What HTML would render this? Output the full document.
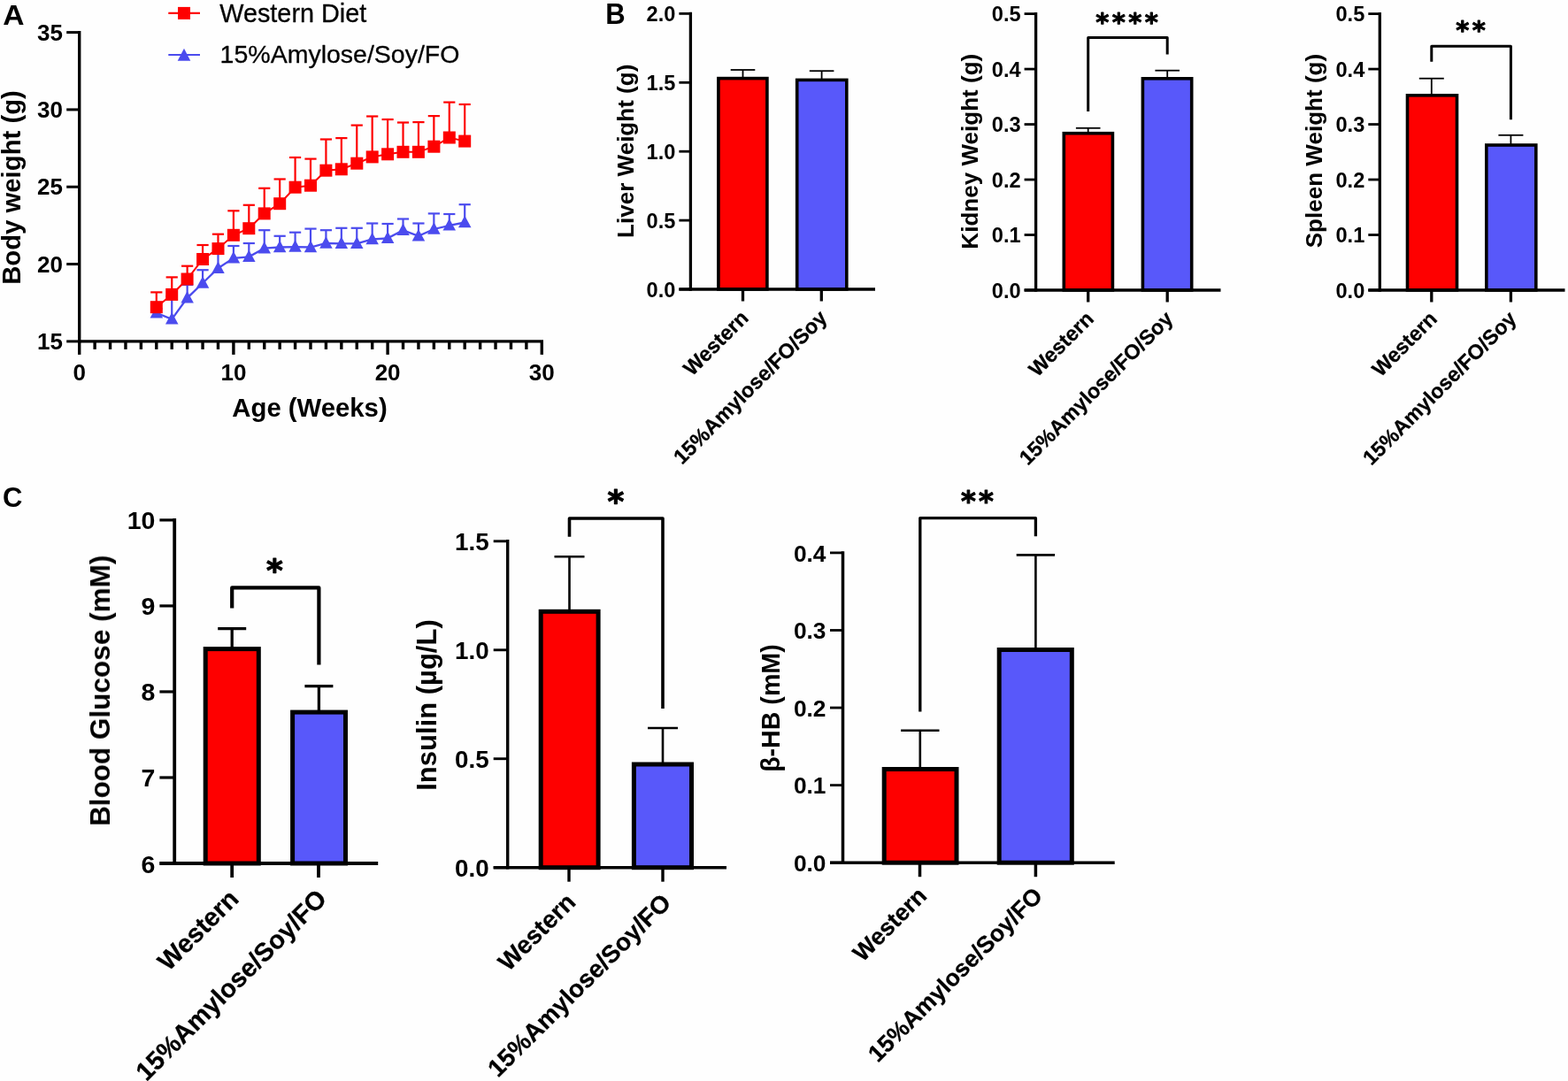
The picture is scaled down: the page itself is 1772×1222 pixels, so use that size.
<!DOCTYPE html>
<html lang="en">
<head>
<meta charset="utf-8">
<title>Figure</title>
<style>
html,body{margin:0;padding:0;background:#fff;}
body{width:1772px;height:1222px;overflow:hidden;}
svg{display:block;}
svg text{font-family:"Liberation Sans", sans-serif;}
</style>
</head>
<body>
<svg width="1772" height="1222" viewBox="0 0 1772 1222">
<defs><filter id="soft" filterUnits="userSpaceOnUse" x="0" y="0" width="1772" height="1222"><feGaussianBlur stdDeviation="0.5"/></filter></defs>
<rect x="0" y="0" width="1772" height="1222" fill="#fefefe"/>
<g filter="url(#soft)">
<text x="0" y="0" transform="translate(3.20 28.20) scale(1.05 1)" font-size="32" font-weight="bold" text-anchor="start" fill="#000">A</text>
<text x="0" y="0" transform="translate(684.20 27.30) scale(0.96 1)" font-size="32.3" font-weight="bold" text-anchor="start" fill="#000">B</text>
<text x="3.00" y="573.00" font-size="31" font-weight="bold" text-anchor="start" fill="#000">C</text>
<polyline fill="none" stroke="#4c4cee" stroke-width="2.3" points="176.8,353.8 194.2,360.9 211.6,336.8 229.1,320.0 246.5,303.2 263.9,291.8 281.3,290.3 298.7,280.7 316.2,279.5 333.6,279.1 351.0,279.5 368.4,275.0 385.8,275.4 403.3,275.4 420.7,270.5 438.1,269.3 455.5,260.3 472.9,266.8 490.4,259.0 507.8,254.9 525.2,251.5"/>
<line x1="176.80" y1="352.75" x2="176.80" y2="349.00" stroke="#4c4cee" stroke-width="2.2" stroke-linecap="butt"/>
<line x1="170.20" y1="349.00" x2="183.40" y2="349.00" stroke="#4c4cee" stroke-width="2.2" stroke-linecap="butt"/>
<polygon points="176.8,346.0 184.1,359.5 169.6,359.5" fill="#4c4cee"/>
<line x1="194.22" y1="359.85" x2="194.22" y2="335.00" stroke="#4c4cee" stroke-width="2.2" stroke-linecap="butt"/>
<line x1="187.62" y1="335.00" x2="200.82" y2="335.00" stroke="#4c4cee" stroke-width="2.2" stroke-linecap="butt"/>
<polygon points="194.2,353.1 201.5,366.6 187.0,366.6" fill="#4c4cee"/>
<line x1="211.64" y1="335.75" x2="211.64" y2="322.00" stroke="#4c4cee" stroke-width="2.2" stroke-linecap="butt"/>
<line x1="205.04" y1="322.00" x2="218.24" y2="322.00" stroke="#4c4cee" stroke-width="2.2" stroke-linecap="butt"/>
<polygon points="211.6,329.0 218.9,342.5 204.4,342.5" fill="#4c4cee"/>
<line x1="229.06" y1="318.95" x2="229.06" y2="305.20" stroke="#4c4cee" stroke-width="2.2" stroke-linecap="butt"/>
<line x1="222.46" y1="305.20" x2="235.66" y2="305.20" stroke="#4c4cee" stroke-width="2.2" stroke-linecap="butt"/>
<polygon points="229.1,312.2 236.3,325.7 221.8,325.7" fill="#4c4cee"/>
<line x1="246.48" y1="302.15" x2="246.48" y2="283.00" stroke="#4c4cee" stroke-width="2.2" stroke-linecap="butt"/>
<line x1="239.88" y1="283.00" x2="253.08" y2="283.00" stroke="#4c4cee" stroke-width="2.2" stroke-linecap="butt"/>
<polygon points="246.5,295.4 253.7,308.9 239.2,308.9" fill="#4c4cee"/>
<line x1="263.90" y1="290.75" x2="263.90" y2="278.00" stroke="#4c4cee" stroke-width="2.2" stroke-linecap="butt"/>
<line x1="257.30" y1="278.00" x2="270.50" y2="278.00" stroke="#4c4cee" stroke-width="2.2" stroke-linecap="butt"/>
<polygon points="263.9,284.0 271.2,297.5 256.7,297.5" fill="#4c4cee"/>
<line x1="281.32" y1="289.25" x2="281.32" y2="275.00" stroke="#4c4cee" stroke-width="2.2" stroke-linecap="butt"/>
<line x1="274.72" y1="275.00" x2="287.92" y2="275.00" stroke="#4c4cee" stroke-width="2.2" stroke-linecap="butt"/>
<polygon points="281.3,282.5 288.6,296.0 274.1,296.0" fill="#4c4cee"/>
<line x1="298.74" y1="279.65" x2="298.74" y2="260.20" stroke="#4c4cee" stroke-width="2.2" stroke-linecap="butt"/>
<line x1="292.14" y1="260.20" x2="305.34" y2="260.20" stroke="#4c4cee" stroke-width="2.2" stroke-linecap="butt"/>
<polygon points="298.7,272.9 306.0,286.4 291.5,286.4" fill="#4c4cee"/>
<line x1="316.16" y1="278.45" x2="316.16" y2="266.80" stroke="#4c4cee" stroke-width="2.2" stroke-linecap="butt"/>
<line x1="309.56" y1="266.80" x2="322.76" y2="266.80" stroke="#4c4cee" stroke-width="2.2" stroke-linecap="butt"/>
<polygon points="316.2,271.7 323.4,285.2 308.9,285.2" fill="#4c4cee"/>
<line x1="333.58" y1="278.05" x2="333.58" y2="262.70" stroke="#4c4cee" stroke-width="2.2" stroke-linecap="butt"/>
<line x1="326.98" y1="262.70" x2="340.18" y2="262.70" stroke="#4c4cee" stroke-width="2.2" stroke-linecap="butt"/>
<polygon points="333.6,271.3 340.8,284.8 326.3,284.8" fill="#4c4cee"/>
<line x1="351.00" y1="278.45" x2="351.00" y2="258.60" stroke="#4c4cee" stroke-width="2.2" stroke-linecap="butt"/>
<line x1="344.40" y1="258.60" x2="357.60" y2="258.60" stroke="#4c4cee" stroke-width="2.2" stroke-linecap="butt"/>
<polygon points="351.0,271.7 358.2,285.2 343.8,285.2" fill="#4c4cee"/>
<line x1="368.42" y1="273.95" x2="368.42" y2="260.20" stroke="#4c4cee" stroke-width="2.2" stroke-linecap="butt"/>
<line x1="361.82" y1="260.20" x2="375.02" y2="260.20" stroke="#4c4cee" stroke-width="2.2" stroke-linecap="butt"/>
<polygon points="368.4,267.2 375.7,280.7 361.2,280.7" fill="#4c4cee"/>
<line x1="385.84" y1="274.35" x2="385.84" y2="257.80" stroke="#4c4cee" stroke-width="2.2" stroke-linecap="butt"/>
<line x1="379.24" y1="257.80" x2="392.44" y2="257.80" stroke="#4c4cee" stroke-width="2.2" stroke-linecap="butt"/>
<polygon points="385.8,267.6 393.1,281.1 378.6,281.1" fill="#4c4cee"/>
<line x1="403.26" y1="274.35" x2="403.26" y2="257.80" stroke="#4c4cee" stroke-width="2.2" stroke-linecap="butt"/>
<line x1="396.66" y1="257.80" x2="409.86" y2="257.80" stroke="#4c4cee" stroke-width="2.2" stroke-linecap="butt"/>
<polygon points="403.3,267.6 410.5,281.1 396.0,281.1" fill="#4c4cee"/>
<line x1="420.68" y1="269.45" x2="420.68" y2="252.50" stroke="#4c4cee" stroke-width="2.2" stroke-linecap="butt"/>
<line x1="414.08" y1="252.50" x2="427.28" y2="252.50" stroke="#4c4cee" stroke-width="2.2" stroke-linecap="butt"/>
<polygon points="420.7,262.7 427.9,276.2 413.4,276.2" fill="#4c4cee"/>
<line x1="438.10" y1="268.25" x2="438.10" y2="253.00" stroke="#4c4cee" stroke-width="2.2" stroke-linecap="butt"/>
<line x1="431.50" y1="253.00" x2="444.70" y2="253.00" stroke="#4c4cee" stroke-width="2.2" stroke-linecap="butt"/>
<polygon points="438.1,261.5 445.4,275.0 430.9,275.0" fill="#4c4cee"/>
<line x1="455.52" y1="259.25" x2="455.52" y2="247.50" stroke="#4c4cee" stroke-width="2.2" stroke-linecap="butt"/>
<line x1="448.92" y1="247.50" x2="462.12" y2="247.50" stroke="#4c4cee" stroke-width="2.2" stroke-linecap="butt"/>
<polygon points="455.5,252.5 462.8,266.0 448.3,266.0" fill="#4c4cee"/>
<line x1="472.94" y1="265.75" x2="472.94" y2="252.50" stroke="#4c4cee" stroke-width="2.2" stroke-linecap="butt"/>
<line x1="466.34" y1="252.50" x2="479.54" y2="252.50" stroke="#4c4cee" stroke-width="2.2" stroke-linecap="butt"/>
<polygon points="472.9,259.0 480.2,272.5 465.7,272.5" fill="#4c4cee"/>
<line x1="490.36" y1="257.95" x2="490.36" y2="241.40" stroke="#4c4cee" stroke-width="2.2" stroke-linecap="butt"/>
<line x1="483.76" y1="241.40" x2="496.96" y2="241.40" stroke="#4c4cee" stroke-width="2.2" stroke-linecap="butt"/>
<polygon points="490.4,251.2 497.6,264.7 483.1,264.7" fill="#4c4cee"/>
<line x1="507.78" y1="253.85" x2="507.78" y2="242.00" stroke="#4c4cee" stroke-width="2.2" stroke-linecap="butt"/>
<line x1="501.18" y1="242.00" x2="514.38" y2="242.00" stroke="#4c4cee" stroke-width="2.2" stroke-linecap="butt"/>
<polygon points="507.8,247.1 515.0,260.6 500.5,260.6" fill="#4c4cee"/>
<line x1="525.20" y1="250.45" x2="525.20" y2="231.20" stroke="#4c4cee" stroke-width="2.2" stroke-linecap="butt"/>
<line x1="518.60" y1="231.20" x2="531.80" y2="231.20" stroke="#4c4cee" stroke-width="2.2" stroke-linecap="butt"/>
<polygon points="525.2,243.7 532.5,257.2 518.0,257.2" fill="#4c4cee"/>
<polyline fill="none" stroke="#fe0000" stroke-width="2.0" points="176.8,347.2 194.2,332.9 211.6,315.5 229.1,293.0 246.5,281.1 263.9,265.8 281.3,258.2 298.7,241.4 316.2,230.2 333.6,211.7 351.0,209.7 368.4,192.7 385.8,191.3 403.3,184.7 420.7,177.4 438.1,174.3 455.5,171.8 472.9,171.8 490.4,165.7 507.8,155.5 525.2,159.6"/>
<line x1="176.80" y1="347.20" x2="176.80" y2="330.40" stroke="#fe0000" stroke-width="2.2" stroke-linecap="butt"/>
<line x1="170.20" y1="330.40" x2="183.40" y2="330.40" stroke="#fe0000" stroke-width="2.2" stroke-linecap="butt"/>
<rect x="169.8" y="340.2" width="14.0" height="14.0" fill="#fe0000"/>
<line x1="194.22" y1="332.90" x2="194.22" y2="313.40" stroke="#fe0000" stroke-width="2.2" stroke-linecap="butt"/>
<line x1="187.62" y1="313.40" x2="200.82" y2="313.40" stroke="#fe0000" stroke-width="2.2" stroke-linecap="butt"/>
<rect x="187.2" y="325.9" width="14.0" height="14.0" fill="#fe0000"/>
<line x1="211.64" y1="315.50" x2="211.64" y2="300.70" stroke="#fe0000" stroke-width="2.2" stroke-linecap="butt"/>
<line x1="205.04" y1="300.70" x2="218.24" y2="300.70" stroke="#fe0000" stroke-width="2.2" stroke-linecap="butt"/>
<rect x="204.6" y="308.5" width="14.0" height="14.0" fill="#fe0000"/>
<line x1="229.06" y1="293.00" x2="229.06" y2="277.00" stroke="#fe0000" stroke-width="2.2" stroke-linecap="butt"/>
<line x1="222.46" y1="277.00" x2="235.66" y2="277.00" stroke="#fe0000" stroke-width="2.2" stroke-linecap="butt"/>
<rect x="222.1" y="286.0" width="14.0" height="14.0" fill="#fe0000"/>
<line x1="246.48" y1="281.10" x2="246.48" y2="264.70" stroke="#fe0000" stroke-width="2.2" stroke-linecap="butt"/>
<line x1="239.88" y1="264.70" x2="253.08" y2="264.70" stroke="#fe0000" stroke-width="2.2" stroke-linecap="butt"/>
<rect x="239.5" y="274.1" width="14.0" height="14.0" fill="#fe0000"/>
<line x1="263.90" y1="265.80" x2="263.90" y2="238.30" stroke="#fe0000" stroke-width="2.2" stroke-linecap="butt"/>
<line x1="257.30" y1="238.30" x2="270.50" y2="238.30" stroke="#fe0000" stroke-width="2.2" stroke-linecap="butt"/>
<rect x="256.9" y="258.8" width="14.0" height="14.0" fill="#fe0000"/>
<line x1="281.32" y1="258.20" x2="281.32" y2="231.80" stroke="#fe0000" stroke-width="2.2" stroke-linecap="butt"/>
<line x1="274.72" y1="231.80" x2="287.92" y2="231.80" stroke="#fe0000" stroke-width="2.2" stroke-linecap="butt"/>
<rect x="274.3" y="251.2" width="14.0" height="14.0" fill="#fe0000"/>
<line x1="298.74" y1="241.40" x2="298.74" y2="212.80" stroke="#fe0000" stroke-width="2.2" stroke-linecap="butt"/>
<line x1="292.14" y1="212.80" x2="305.34" y2="212.80" stroke="#fe0000" stroke-width="2.2" stroke-linecap="butt"/>
<rect x="291.7" y="234.4" width="14.0" height="14.0" fill="#fe0000"/>
<line x1="316.16" y1="230.20" x2="316.16" y2="202.50" stroke="#fe0000" stroke-width="2.2" stroke-linecap="butt"/>
<line x1="309.56" y1="202.50" x2="322.76" y2="202.50" stroke="#fe0000" stroke-width="2.2" stroke-linecap="butt"/>
<rect x="309.2" y="223.2" width="14.0" height="14.0" fill="#fe0000"/>
<line x1="333.58" y1="211.70" x2="333.58" y2="178.00" stroke="#fe0000" stroke-width="2.2" stroke-linecap="butt"/>
<line x1="326.98" y1="178.00" x2="340.18" y2="178.00" stroke="#fe0000" stroke-width="2.2" stroke-linecap="butt"/>
<rect x="326.6" y="204.7" width="14.0" height="14.0" fill="#fe0000"/>
<line x1="351.00" y1="209.70" x2="351.00" y2="179.60" stroke="#fe0000" stroke-width="2.2" stroke-linecap="butt"/>
<line x1="344.40" y1="179.60" x2="357.60" y2="179.60" stroke="#fe0000" stroke-width="2.2" stroke-linecap="butt"/>
<rect x="344.0" y="202.7" width="14.0" height="14.0" fill="#fe0000"/>
<line x1="368.42" y1="192.70" x2="368.42" y2="157.50" stroke="#fe0000" stroke-width="2.2" stroke-linecap="butt"/>
<line x1="361.82" y1="157.50" x2="375.02" y2="157.50" stroke="#fe0000" stroke-width="2.2" stroke-linecap="butt"/>
<rect x="361.4" y="185.7" width="14.0" height="14.0" fill="#fe0000"/>
<line x1="385.84" y1="191.30" x2="385.84" y2="156.10" stroke="#fe0000" stroke-width="2.2" stroke-linecap="butt"/>
<line x1="379.24" y1="156.10" x2="392.44" y2="156.10" stroke="#fe0000" stroke-width="2.2" stroke-linecap="butt"/>
<rect x="378.8" y="184.3" width="14.0" height="14.0" fill="#fe0000"/>
<line x1="403.26" y1="184.70" x2="403.26" y2="141.60" stroke="#fe0000" stroke-width="2.2" stroke-linecap="butt"/>
<line x1="396.66" y1="141.60" x2="409.86" y2="141.60" stroke="#fe0000" stroke-width="2.2" stroke-linecap="butt"/>
<rect x="396.3" y="177.7" width="14.0" height="14.0" fill="#fe0000"/>
<line x1="420.68" y1="177.40" x2="420.68" y2="131.50" stroke="#fe0000" stroke-width="2.2" stroke-linecap="butt"/>
<line x1="414.08" y1="131.50" x2="427.28" y2="131.50" stroke="#fe0000" stroke-width="2.2" stroke-linecap="butt"/>
<rect x="413.7" y="170.4" width="14.0" height="14.0" fill="#fe0000"/>
<line x1="438.10" y1="174.30" x2="438.10" y2="135.00" stroke="#fe0000" stroke-width="2.2" stroke-linecap="butt"/>
<line x1="431.50" y1="135.00" x2="444.70" y2="135.00" stroke="#fe0000" stroke-width="2.2" stroke-linecap="butt"/>
<rect x="431.1" y="167.3" width="14.0" height="14.0" fill="#fe0000"/>
<line x1="455.52" y1="171.80" x2="455.52" y2="138.50" stroke="#fe0000" stroke-width="2.2" stroke-linecap="butt"/>
<line x1="448.92" y1="138.50" x2="462.12" y2="138.50" stroke="#fe0000" stroke-width="2.2" stroke-linecap="butt"/>
<rect x="448.5" y="164.8" width="14.0" height="14.0" fill="#fe0000"/>
<line x1="472.94" y1="171.80" x2="472.94" y2="138.10" stroke="#fe0000" stroke-width="2.2" stroke-linecap="butt"/>
<line x1="466.34" y1="138.10" x2="479.54" y2="138.10" stroke="#fe0000" stroke-width="2.2" stroke-linecap="butt"/>
<rect x="465.9" y="164.8" width="14.0" height="14.0" fill="#fe0000"/>
<line x1="490.36" y1="165.70" x2="490.36" y2="131.10" stroke="#fe0000" stroke-width="2.2" stroke-linecap="butt"/>
<line x1="483.76" y1="131.10" x2="496.96" y2="131.10" stroke="#fe0000" stroke-width="2.2" stroke-linecap="butt"/>
<rect x="483.4" y="158.7" width="14.0" height="14.0" fill="#fe0000"/>
<line x1="507.78" y1="155.50" x2="507.78" y2="115.60" stroke="#fe0000" stroke-width="2.2" stroke-linecap="butt"/>
<line x1="501.18" y1="115.60" x2="514.38" y2="115.60" stroke="#fe0000" stroke-width="2.2" stroke-linecap="butt"/>
<rect x="500.8" y="148.5" width="14.0" height="14.0" fill="#fe0000"/>
<line x1="525.20" y1="159.60" x2="525.20" y2="118.00" stroke="#fe0000" stroke-width="2.2" stroke-linecap="butt"/>
<line x1="518.60" y1="118.00" x2="531.80" y2="118.00" stroke="#fe0000" stroke-width="2.2" stroke-linecap="butt"/>
<rect x="518.2" y="152.6" width="14.0" height="14.0" fill="#fe0000"/>
<line x1="89.70" y1="34.90" x2="89.70" y2="387.60" stroke="#000" stroke-width="3.4" stroke-linecap="butt"/>
<line x1="88.00" y1="385.90" x2="614.00" y2="385.90" stroke="#000" stroke-width="3.4" stroke-linecap="butt"/>
<line x1="75.20" y1="385.90" x2="89.70" y2="385.90" stroke="#000" stroke-width="3.0" stroke-linecap="butt"/>
<text x="70.90" y="395.10" font-size="26" font-weight="bold" text-anchor="end" fill="#000">15</text>
<line x1="75.20" y1="298.57" x2="89.70" y2="298.57" stroke="#000" stroke-width="3.0" stroke-linecap="butt"/>
<text x="70.90" y="307.77" font-size="26" font-weight="bold" text-anchor="end" fill="#000">20</text>
<line x1="75.20" y1="211.25" x2="89.70" y2="211.25" stroke="#000" stroke-width="3.0" stroke-linecap="butt"/>
<text x="70.90" y="220.45" font-size="26" font-weight="bold" text-anchor="end" fill="#000">25</text>
<line x1="75.20" y1="123.92" x2="89.70" y2="123.92" stroke="#000" stroke-width="3.0" stroke-linecap="butt"/>
<text x="70.90" y="133.12" font-size="26" font-weight="bold" text-anchor="end" fill="#000">30</text>
<line x1="75.20" y1="36.60" x2="89.70" y2="36.60" stroke="#000" stroke-width="3.0" stroke-linecap="butt"/>
<text x="70.90" y="45.80" font-size="26" font-weight="bold" text-anchor="end" fill="#000">35</text>
<line x1="89.70" y1="385.90" x2="89.70" y2="400.90" stroke="#000" stroke-width="3.4" stroke-linecap="butt"/>
<line x1="107.12" y1="385.90" x2="107.12" y2="394.90" stroke="#000" stroke-width="3.4" stroke-linecap="butt"/>
<line x1="124.54" y1="385.90" x2="124.54" y2="394.90" stroke="#000" stroke-width="3.4" stroke-linecap="butt"/>
<line x1="141.96" y1="385.90" x2="141.96" y2="394.90" stroke="#000" stroke-width="3.4" stroke-linecap="butt"/>
<line x1="159.38" y1="385.90" x2="159.38" y2="394.90" stroke="#000" stroke-width="3.4" stroke-linecap="butt"/>
<line x1="176.80" y1="385.90" x2="176.80" y2="394.90" stroke="#000" stroke-width="3.4" stroke-linecap="butt"/>
<line x1="194.22" y1="385.90" x2="194.22" y2="394.90" stroke="#000" stroke-width="3.4" stroke-linecap="butt"/>
<line x1="211.64" y1="385.90" x2="211.64" y2="394.90" stroke="#000" stroke-width="3.4" stroke-linecap="butt"/>
<line x1="229.06" y1="385.90" x2="229.06" y2="394.90" stroke="#000" stroke-width="3.4" stroke-linecap="butt"/>
<line x1="246.48" y1="385.90" x2="246.48" y2="394.90" stroke="#000" stroke-width="3.4" stroke-linecap="butt"/>
<line x1="263.90" y1="385.90" x2="263.90" y2="400.90" stroke="#000" stroke-width="3.4" stroke-linecap="butt"/>
<line x1="281.32" y1="385.90" x2="281.32" y2="394.90" stroke="#000" stroke-width="3.4" stroke-linecap="butt"/>
<line x1="298.74" y1="385.90" x2="298.74" y2="394.90" stroke="#000" stroke-width="3.4" stroke-linecap="butt"/>
<line x1="316.16" y1="385.90" x2="316.16" y2="394.90" stroke="#000" stroke-width="3.4" stroke-linecap="butt"/>
<line x1="333.58" y1="385.90" x2="333.58" y2="394.90" stroke="#000" stroke-width="3.4" stroke-linecap="butt"/>
<line x1="351.00" y1="385.90" x2="351.00" y2="394.90" stroke="#000" stroke-width="3.4" stroke-linecap="butt"/>
<line x1="368.42" y1="385.90" x2="368.42" y2="394.90" stroke="#000" stroke-width="3.4" stroke-linecap="butt"/>
<line x1="385.84" y1="385.90" x2="385.84" y2="394.90" stroke="#000" stroke-width="3.4" stroke-linecap="butt"/>
<line x1="403.26" y1="385.90" x2="403.26" y2="394.90" stroke="#000" stroke-width="3.4" stroke-linecap="butt"/>
<line x1="420.68" y1="385.90" x2="420.68" y2="394.90" stroke="#000" stroke-width="3.4" stroke-linecap="butt"/>
<line x1="438.10" y1="385.90" x2="438.10" y2="400.90" stroke="#000" stroke-width="3.4" stroke-linecap="butt"/>
<line x1="455.52" y1="385.90" x2="455.52" y2="394.90" stroke="#000" stroke-width="3.4" stroke-linecap="butt"/>
<line x1="472.94" y1="385.90" x2="472.94" y2="394.90" stroke="#000" stroke-width="3.4" stroke-linecap="butt"/>
<line x1="490.36" y1="385.90" x2="490.36" y2="394.90" stroke="#000" stroke-width="3.4" stroke-linecap="butt"/>
<line x1="507.78" y1="385.90" x2="507.78" y2="394.90" stroke="#000" stroke-width="3.4" stroke-linecap="butt"/>
<line x1="525.20" y1="385.90" x2="525.20" y2="394.90" stroke="#000" stroke-width="3.4" stroke-linecap="butt"/>
<line x1="542.62" y1="385.90" x2="542.62" y2="394.90" stroke="#000" stroke-width="3.4" stroke-linecap="butt"/>
<line x1="560.04" y1="385.90" x2="560.04" y2="394.90" stroke="#000" stroke-width="3.4" stroke-linecap="butt"/>
<line x1="577.46" y1="385.90" x2="577.46" y2="394.90" stroke="#000" stroke-width="3.4" stroke-linecap="butt"/>
<line x1="594.88" y1="385.90" x2="594.88" y2="394.90" stroke="#000" stroke-width="3.4" stroke-linecap="butt"/>
<line x1="612.30" y1="385.90" x2="612.30" y2="400.90" stroke="#000" stroke-width="3.4" stroke-linecap="butt"/>
<text x="89.70" y="430.40" font-size="26" font-weight="bold" text-anchor="middle" fill="#000">0</text>
<text x="263.90" y="430.40" font-size="26" font-weight="bold" text-anchor="middle" fill="#000">10</text>
<text x="438.10" y="430.40" font-size="26" font-weight="bold" text-anchor="middle" fill="#000">20</text>
<text x="612.30" y="430.40" font-size="26" font-weight="bold" text-anchor="middle" fill="#000">30</text>
<text x="350.00" y="471.20" font-size="29.3" font-weight="bold" text-anchor="middle" fill="#000">Age (Weeks)</text>
<text x="0" y="0" transform="translate(23.10 212.00) rotate(-90)" font-size="29.3" font-weight="bold" text-anchor="middle" fill="#000">Body weight (g)</text>
<line x1="190.30" y1="14.90" x2="226.00" y2="14.90" stroke="#fe0000" stroke-width="2.2" stroke-linecap="butt"/>
<rect x="201.0" y="7.9" width="14" height="14" fill="#fe0000"/>
<line x1="190.30" y1="62.00" x2="226.00" y2="62.00" stroke="#4c4cee" stroke-width="2.2" stroke-linecap="butt"/>
<polygon points="208,54.8 215.3,68.8 200.7,68.8" fill="#4c4cee"/>
<text x="248.30" y="24.60" font-size="28.8" font-weight="normal" text-anchor="start" fill="#000" stroke="#000" stroke-width="0.3" stroke-linejoin="round">Western Diet</text>
<text x="248.60" y="71.40" font-size="28.5" font-weight="normal" text-anchor="start" fill="#000" stroke="#000" stroke-width="0.3" stroke-linejoin="round">15%Amylose/Soy/FO</text>
<line x1="839.50" y1="88.80" x2="839.50" y2="79.00" stroke="#000" stroke-width="1.8" stroke-linecap="butt"/>
<line x1="825.70" y1="79.00" x2="853.30" y2="79.00" stroke="#000" stroke-width="1.8" stroke-linecap="butt"/>
<rect x="811.90" y="88.60" width="55.00" height="238.40" fill="#fe0000" stroke="#000" stroke-width="3.6"/>
<line x1="928.60" y1="90.60" x2="928.60" y2="80.20" stroke="#000" stroke-width="1.8" stroke-linecap="butt"/>
<line x1="914.80" y1="80.20" x2="942.40" y2="80.20" stroke="#000" stroke-width="1.8" stroke-linecap="butt"/>
<rect x="900.70" y="90.40" width="56.10" height="236.60" fill="#5858fa" stroke="#000" stroke-width="3.6"/>
<line x1="780.40" y1="13.75" x2="780.40" y2="328.65" stroke="#000" stroke-width="3.3" stroke-linecap="butt"/>
<line x1="767.40" y1="327.00" x2="989.00" y2="327.00" stroke="#000" stroke-width="3.3" stroke-linecap="butt"/>
<line x1="767.40" y1="327.00" x2="780.40" y2="327.00" stroke="#000" stroke-width="2.8" stroke-linecap="butt"/>
<text x="763.40" y="335.55" font-size="23.6" font-weight="bold" text-anchor="end" fill="#000">0.0</text>
<line x1="767.40" y1="249.10" x2="780.40" y2="249.10" stroke="#000" stroke-width="2.8" stroke-linecap="butt"/>
<text x="763.40" y="257.65" font-size="23.6" font-weight="bold" text-anchor="end" fill="#000">0.5</text>
<line x1="767.40" y1="171.20" x2="780.40" y2="171.20" stroke="#000" stroke-width="2.8" stroke-linecap="butt"/>
<text x="763.40" y="179.75" font-size="23.6" font-weight="bold" text-anchor="end" fill="#000">1.0</text>
<line x1="767.40" y1="93.30" x2="780.40" y2="93.30" stroke="#000" stroke-width="2.8" stroke-linecap="butt"/>
<text x="763.40" y="101.85" font-size="23.6" font-weight="bold" text-anchor="end" fill="#000">1.5</text>
<line x1="767.40" y1="15.40" x2="780.40" y2="15.40" stroke="#000" stroke-width="2.8" stroke-linecap="butt"/>
<text x="763.40" y="23.95" font-size="23.6" font-weight="bold" text-anchor="end" fill="#000">2.0</text>
<line x1="839.50" y1="327.00" x2="839.50" y2="340.50" stroke="#000" stroke-width="3.3" stroke-linecap="butt"/>
<line x1="928.30" y1="327.00" x2="928.30" y2="340.50" stroke="#000" stroke-width="3.3" stroke-linecap="butt"/>
<text x="0" y="0" transform="translate(847.20 360.80) rotate(-45)" font-size="23.5" font-weight="bold" text-anchor="end" fill="#000" stroke="#000" stroke-width="0.3" stroke-linejoin="round">Western</text>
<text x="0" y="0" transform="translate(936.00 360.80) rotate(-45)" font-size="23.5" font-weight="bold" text-anchor="end" fill="#000" stroke="#000" stroke-width="0.3" stroke-linejoin="round">15%Amylose/FO/Soy</text>
<text x="0" y="0" transform="translate(716.10 170.80) rotate(-90) scale(1.03 1)" font-size="25.3" font-weight="bold" text-anchor="middle" fill="#000">Liver Weight (g)</text>
<line x1="1229.70" y1="150.90" x2="1229.70" y2="144.80" stroke="#000" stroke-width="1.8" stroke-linecap="butt"/>
<line x1="1215.90" y1="144.80" x2="1243.50" y2="144.80" stroke="#000" stroke-width="1.8" stroke-linecap="butt"/>
<rect x="1202.30" y="150.70" width="55.10" height="177.30" fill="#fe0000" stroke="#000" stroke-width="3.6"/>
<line x1="1319.20" y1="89.00" x2="1319.20" y2="79.70" stroke="#000" stroke-width="1.8" stroke-linecap="butt"/>
<line x1="1305.40" y1="79.70" x2="1333.00" y2="79.70" stroke="#000" stroke-width="1.8" stroke-linecap="butt"/>
<rect x="1291.40" y="88.80" width="55.30" height="239.20" fill="#5858fa" stroke="#000" stroke-width="3.6"/>
<line x1="1170.60" y1="13.95" x2="1170.60" y2="329.65" stroke="#000" stroke-width="3.3" stroke-linecap="butt"/>
<line x1="1157.60" y1="328.00" x2="1379.50" y2="328.00" stroke="#000" stroke-width="3.3" stroke-linecap="butt"/>
<line x1="1157.60" y1="328.00" x2="1170.60" y2="328.00" stroke="#000" stroke-width="2.8" stroke-linecap="butt"/>
<text x="1153.60" y="336.55" font-size="23.6" font-weight="bold" text-anchor="end" fill="#000">0.0</text>
<line x1="1157.60" y1="265.52" x2="1170.60" y2="265.52" stroke="#000" stroke-width="2.8" stroke-linecap="butt"/>
<text x="1153.60" y="274.07" font-size="23.6" font-weight="bold" text-anchor="end" fill="#000">0.1</text>
<line x1="1157.60" y1="203.04" x2="1170.60" y2="203.04" stroke="#000" stroke-width="2.8" stroke-linecap="butt"/>
<text x="1153.60" y="211.59" font-size="23.6" font-weight="bold" text-anchor="end" fill="#000">0.2</text>
<line x1="1157.60" y1="140.56" x2="1170.60" y2="140.56" stroke="#000" stroke-width="2.8" stroke-linecap="butt"/>
<text x="1153.60" y="149.11" font-size="23.6" font-weight="bold" text-anchor="end" fill="#000">0.3</text>
<line x1="1157.60" y1="78.08" x2="1170.60" y2="78.08" stroke="#000" stroke-width="2.8" stroke-linecap="butt"/>
<text x="1153.60" y="86.63" font-size="23.6" font-weight="bold" text-anchor="end" fill="#000">0.4</text>
<line x1="1157.60" y1="15.60" x2="1170.60" y2="15.60" stroke="#000" stroke-width="2.8" stroke-linecap="butt"/>
<text x="1153.60" y="24.15" font-size="23.6" font-weight="bold" text-anchor="end" fill="#000">0.5</text>
<line x1="1229.70" y1="328.00" x2="1229.70" y2="341.50" stroke="#000" stroke-width="3.3" stroke-linecap="butt"/>
<line x1="1319.20" y1="328.00" x2="1319.20" y2="341.50" stroke="#000" stroke-width="3.3" stroke-linecap="butt"/>
<text x="0" y="0" transform="translate(1237.40 361.80) rotate(-45)" font-size="23.5" font-weight="bold" text-anchor="end" fill="#000" stroke="#000" stroke-width="0.3" stroke-linejoin="round">Western</text>
<text x="0" y="0" transform="translate(1326.90 361.80) rotate(-45)" font-size="23.5" font-weight="bold" text-anchor="end" fill="#000" stroke="#000" stroke-width="0.3" stroke-linejoin="round">15%Amylose/FO/Soy</text>
<text x="0" y="0" transform="translate(1104.60 171.20) rotate(-90) scale(1.03 1)" font-size="25.3" font-weight="bold" text-anchor="middle" fill="#000">Kidney Weight (g)</text>
<polyline fill="none" stroke="#000" stroke-width="3.0" stroke-linejoin="round" stroke-linecap="butt" points="1229.7,126.0 1229.7,42.4 1319.2,42.4 1319.2,61.4"/>
<text x="1238.16 1256.66 1275.16 1293.66" y="35.39" font-size="28.8" font-weight="bold" style="font-family:'DejaVu Sans','Liberation Sans',sans-serif" fill="#000" stroke="#000" stroke-width="0.95" stroke-linejoin="round">****</text>
<line x1="1617.80" y1="108.00" x2="1617.80" y2="88.70" stroke="#000" stroke-width="1.8" stroke-linecap="butt"/>
<line x1="1603.80" y1="88.70" x2="1631.80" y2="88.70" stroke="#000" stroke-width="1.8" stroke-linecap="butt"/>
<rect x="1590.50" y="107.80" width="56.00" height="220.20" fill="#fe0000" stroke="#000" stroke-width="3.6"/>
<line x1="1707.40" y1="164.20" x2="1707.40" y2="152.80" stroke="#000" stroke-width="1.8" stroke-linecap="butt"/>
<line x1="1693.40" y1="152.80" x2="1721.40" y2="152.80" stroke="#000" stroke-width="1.8" stroke-linecap="butt"/>
<rect x="1679.80" y="164.00" width="56.00" height="164.00" fill="#5858fa" stroke="#000" stroke-width="3.6"/>
<line x1="1559.30" y1="13.95" x2="1559.30" y2="329.65" stroke="#000" stroke-width="3.3" stroke-linecap="butt"/>
<line x1="1546.30" y1="328.00" x2="1768.50" y2="328.00" stroke="#000" stroke-width="3.3" stroke-linecap="butt"/>
<line x1="1546.30" y1="328.00" x2="1559.30" y2="328.00" stroke="#000" stroke-width="2.8" stroke-linecap="butt"/>
<text x="1542.30" y="336.55" font-size="23.6" font-weight="bold" text-anchor="end" fill="#000">0.0</text>
<line x1="1546.30" y1="265.52" x2="1559.30" y2="265.52" stroke="#000" stroke-width="2.8" stroke-linecap="butt"/>
<text x="1542.30" y="274.07" font-size="23.6" font-weight="bold" text-anchor="end" fill="#000">0.1</text>
<line x1="1546.30" y1="203.04" x2="1559.30" y2="203.04" stroke="#000" stroke-width="2.8" stroke-linecap="butt"/>
<text x="1542.30" y="211.59" font-size="23.6" font-weight="bold" text-anchor="end" fill="#000">0.2</text>
<line x1="1546.30" y1="140.56" x2="1559.30" y2="140.56" stroke="#000" stroke-width="2.8" stroke-linecap="butt"/>
<text x="1542.30" y="149.11" font-size="23.6" font-weight="bold" text-anchor="end" fill="#000">0.3</text>
<line x1="1546.30" y1="78.08" x2="1559.30" y2="78.08" stroke="#000" stroke-width="2.8" stroke-linecap="butt"/>
<text x="1542.30" y="86.63" font-size="23.6" font-weight="bold" text-anchor="end" fill="#000">0.4</text>
<line x1="1546.30" y1="15.60" x2="1559.30" y2="15.60" stroke="#000" stroke-width="2.8" stroke-linecap="butt"/>
<text x="1542.30" y="24.15" font-size="23.6" font-weight="bold" text-anchor="end" fill="#000">0.5</text>
<line x1="1617.80" y1="328.00" x2="1617.80" y2="341.50" stroke="#000" stroke-width="3.3" stroke-linecap="butt"/>
<line x1="1707.40" y1="328.00" x2="1707.40" y2="341.50" stroke="#000" stroke-width="3.3" stroke-linecap="butt"/>
<text x="0" y="0" transform="translate(1625.50 361.80) rotate(-45)" font-size="23.5" font-weight="bold" text-anchor="end" fill="#000" stroke="#000" stroke-width="0.3" stroke-linejoin="round">Western</text>
<text x="0" y="0" transform="translate(1715.10 361.80) rotate(-45)" font-size="23.5" font-weight="bold" text-anchor="end" fill="#000" stroke="#000" stroke-width="0.3" stroke-linejoin="round">15%Amylose/FO/Soy</text>
<text x="0" y="0" transform="translate(1494.00 170.60) rotate(-90) scale(1.03 1)" font-size="25.3" font-weight="bold" text-anchor="middle" fill="#000">Spleen Weight (g)</text>
<polyline fill="none" stroke="#000" stroke-width="3.0" stroke-linejoin="round" stroke-linecap="butt" points="1617.8,69.7 1617.8,52.2 1707.4,52.2 1707.4,135.2"/>
<text x="1645.26 1663.76" y="44.39" font-size="28.8" font-weight="bold" style="font-family:'DejaVu Sans','Liberation Sans',sans-serif" fill="#000" stroke="#000" stroke-width="0.95" stroke-linejoin="round">**</text>
<line x1="262.20" y1="733.10" x2="262.20" y2="710.60" stroke="#000" stroke-width="3.3" stroke-linecap="butt"/>
<line x1="246.20" y1="710.60" x2="278.20" y2="710.60" stroke="#000" stroke-width="3.3" stroke-linecap="butt"/>
<rect x="232.20" y="733.60" width="60.10" height="242.40" fill="#fe0000" stroke="#000" stroke-width="5.0"/>
<line x1="360.40" y1="804.60" x2="360.40" y2="775.70" stroke="#000" stroke-width="3.3" stroke-linecap="butt"/>
<line x1="344.40" y1="775.70" x2="376.40" y2="775.70" stroke="#000" stroke-width="3.3" stroke-linecap="butt"/>
<rect x="330.60" y="805.10" width="59.90" height="170.90" fill="#5858fa" stroke="#000" stroke-width="5.0"/>
<line x1="197.20" y1="586.00" x2="197.20" y2="977.90" stroke="#000" stroke-width="3.8" stroke-linecap="butt"/>
<line x1="180.40" y1="976.00" x2="427.20" y2="976.00" stroke="#000" stroke-width="3.8" stroke-linecap="butt"/>
<line x1="180.40" y1="976.00" x2="197.20" y2="976.00" stroke="#000" stroke-width="3.2" stroke-linecap="butt"/>
<text x="175.40" y="986.50" font-size="28.5" font-weight="bold" text-anchor="end" fill="#000">6</text>
<line x1="180.40" y1="878.98" x2="197.20" y2="878.98" stroke="#000" stroke-width="3.2" stroke-linecap="butt"/>
<text x="175.40" y="889.48" font-size="28.5" font-weight="bold" text-anchor="end" fill="#000">7</text>
<line x1="180.40" y1="781.95" x2="197.20" y2="781.95" stroke="#000" stroke-width="3.2" stroke-linecap="butt"/>
<text x="175.40" y="792.45" font-size="28.5" font-weight="bold" text-anchor="end" fill="#000">8</text>
<line x1="180.40" y1="684.92" x2="197.20" y2="684.92" stroke="#000" stroke-width="3.2" stroke-linecap="butt"/>
<text x="175.40" y="695.43" font-size="28.5" font-weight="bold" text-anchor="end" fill="#000">9</text>
<line x1="180.40" y1="587.90" x2="197.20" y2="587.90" stroke="#000" stroke-width="3.2" stroke-linecap="butt"/>
<text x="175.40" y="598.40" font-size="28.5" font-weight="bold" text-anchor="end" fill="#000">10</text>
<line x1="262.20" y1="976.00" x2="262.20" y2="992.00" stroke="#000" stroke-width="3.8" stroke-linecap="butt"/>
<line x1="360.00" y1="976.00" x2="360.00" y2="992.00" stroke="#000" stroke-width="3.8" stroke-linecap="butt"/>
<text x="0" y="0" transform="translate(271.40 1017.80) rotate(-45)" font-size="29.2" font-weight="bold" text-anchor="end" fill="#000" stroke="#000" stroke-width="0.3" stroke-linejoin="round">Western</text>
<text x="0" y="0" transform="translate(370.80 1017.80) rotate(-45)" font-size="29.2" font-weight="bold" text-anchor="end" fill="#000" stroke="#000" stroke-width="0.3" stroke-linejoin="round">15%Amylose/Soy/FO</text>
<text x="0" y="0" transform="translate(124.00 780.80) rotate(-90)" font-size="31.5" font-weight="bold" text-anchor="middle" fill="#000">Blood Glucose (mM)</text>
<polyline fill="none" stroke="#000" stroke-width="4.2" stroke-linejoin="round" stroke-linecap="butt" points="262.2,687.5 262.2,664.4 360.4,664.4 360.4,751.5"/>
<text x="300.99" y="656.76" font-size="35.8" font-weight="bold" style="font-family:'DejaVu Sans','Liberation Sans',sans-serif" fill="#000" stroke="#000" stroke-width="1.18" stroke-linejoin="round">*</text>
<line x1="643.50" y1="690.80" x2="643.50" y2="629.30" stroke="#000" stroke-width="2.6" stroke-linecap="butt"/>
<line x1="626.50" y1="629.30" x2="660.50" y2="629.30" stroke="#000" stroke-width="2.6" stroke-linecap="butt"/>
<rect x="611.20" y="691.30" width="64.90" height="289.40" fill="#fe0000" stroke="#000" stroke-width="5.0"/>
<line x1="749.00" y1="863.50" x2="749.00" y2="823.00" stroke="#000" stroke-width="2.6" stroke-linecap="butt"/>
<line x1="732.00" y1="823.00" x2="766.00" y2="823.00" stroke="#000" stroke-width="2.6" stroke-linecap="butt"/>
<rect x="716.40" y="864.00" width="65.10" height="116.70" fill="#5858fa" stroke="#000" stroke-width="5.0"/>
<line x1="573.70" y1="610.10" x2="573.70" y2="982.40" stroke="#000" stroke-width="3.4" stroke-linecap="butt"/>
<line x1="557.70" y1="980.70" x2="821.00" y2="980.70" stroke="#000" stroke-width="3.4" stroke-linecap="butt"/>
<line x1="557.70" y1="980.70" x2="573.70" y2="980.70" stroke="#000" stroke-width="2.9" stroke-linecap="butt"/>
<text x="552.70" y="990.95" font-size="27.8" font-weight="bold" text-anchor="end" fill="#000">0.0</text>
<line x1="557.70" y1="857.73" x2="573.70" y2="857.73" stroke="#000" stroke-width="2.9" stroke-linecap="butt"/>
<text x="552.70" y="867.99" font-size="27.8" font-weight="bold" text-anchor="end" fill="#000">0.5</text>
<line x1="557.70" y1="734.77" x2="573.70" y2="734.77" stroke="#000" stroke-width="2.9" stroke-linecap="butt"/>
<text x="552.70" y="745.02" font-size="27.8" font-weight="bold" text-anchor="end" fill="#000">1.0</text>
<line x1="557.70" y1="611.80" x2="573.70" y2="611.80" stroke="#000" stroke-width="2.9" stroke-linecap="butt"/>
<text x="552.70" y="622.05" font-size="27.8" font-weight="bold" text-anchor="end" fill="#000">1.5</text>
<line x1="643.00" y1="980.70" x2="643.00" y2="996.70" stroke="#000" stroke-width="3.4" stroke-linecap="butt"/>
<line x1="749.00" y1="980.70" x2="749.00" y2="996.70" stroke="#000" stroke-width="3.4" stroke-linecap="butt"/>
<text x="0" y="0" transform="translate(652.20 1021.30) rotate(-45)" font-size="28.0" font-weight="bold" text-anchor="end" fill="#000" stroke="#000" stroke-width="0.3" stroke-linejoin="round">Western</text>
<text x="0" y="0" transform="translate(759.80 1022.10) rotate(-45)" font-size="28.0" font-weight="bold" text-anchor="end" fill="#000" stroke="#000" stroke-width="0.3" stroke-linejoin="round">15%Amylose/Soy/FO</text>
<text x="0" y="0" transform="translate(493.20 797.00) rotate(-90)" font-size="31.0" font-weight="bold" text-anchor="middle" fill="#000">Insulin (µg/L)</text>
<polyline fill="none" stroke="#000" stroke-width="3.6" stroke-linejoin="round" stroke-linecap="butt" points="643.5,606.8 643.5,586.0 749.0,586.0 749.0,801.0"/>
<text x="686.49" y="578.96" font-size="35.8" font-weight="bold" style="font-family:'DejaVu Sans','Liberation Sans',sans-serif" fill="#000" stroke="#000" stroke-width="1.18" stroke-linejoin="round">*</text>
<line x1="1039.80" y1="869.00" x2="1039.80" y2="825.80" stroke="#000" stroke-width="2.6" stroke-linecap="butt"/>
<line x1="1018.10" y1="825.80" x2="1061.50" y2="825.80" stroke="#000" stroke-width="2.6" stroke-linecap="butt"/>
<rect x="999.20" y="869.50" width="81.80" height="105.70" fill="#fe0000" stroke="#000" stroke-width="5.0"/>
<line x1="1170.40" y1="734.00" x2="1170.40" y2="627.40" stroke="#000" stroke-width="2.6" stroke-linecap="butt"/>
<line x1="1148.70" y1="627.40" x2="1192.10" y2="627.40" stroke="#000" stroke-width="2.6" stroke-linecap="butt"/>
<rect x="1129.20" y="734.50" width="82.10" height="240.70" fill="#5858fa" stroke="#000" stroke-width="5.0"/>
<line x1="952.50" y1="623.15" x2="952.50" y2="976.95" stroke="#000" stroke-width="3.5" stroke-linecap="butt"/>
<line x1="938.00" y1="975.20" x2="1259.70" y2="975.20" stroke="#000" stroke-width="3.5" stroke-linecap="butt"/>
<line x1="938.00" y1="975.20" x2="952.50" y2="975.20" stroke="#000" stroke-width="2.8" stroke-linecap="butt"/>
<text x="933.50" y="984.92" font-size="26.3" font-weight="bold" text-anchor="end" fill="#000">0.0</text>
<line x1="938.00" y1="887.62" x2="952.50" y2="887.62" stroke="#000" stroke-width="2.8" stroke-linecap="butt"/>
<text x="933.50" y="897.34" font-size="26.3" font-weight="bold" text-anchor="end" fill="#000">0.1</text>
<line x1="938.00" y1="800.05" x2="952.50" y2="800.05" stroke="#000" stroke-width="2.8" stroke-linecap="butt"/>
<text x="933.50" y="809.77" font-size="26.3" font-weight="bold" text-anchor="end" fill="#000">0.2</text>
<line x1="938.00" y1="712.48" x2="952.50" y2="712.48" stroke="#000" stroke-width="2.8" stroke-linecap="butt"/>
<text x="933.50" y="722.19" font-size="26.3" font-weight="bold" text-anchor="end" fill="#000">0.3</text>
<line x1="938.00" y1="624.90" x2="952.50" y2="624.90" stroke="#000" stroke-width="2.8" stroke-linecap="butt"/>
<text x="933.50" y="634.62" font-size="26.3" font-weight="bold" text-anchor="end" fill="#000">0.4</text>
<line x1="1039.50" y1="975.20" x2="1039.50" y2="991.20" stroke="#000" stroke-width="3.5" stroke-linecap="butt"/>
<line x1="1170.40" y1="975.20" x2="1170.40" y2="991.20" stroke="#000" stroke-width="3.5" stroke-linecap="butt"/>
<text x="0" y="0" transform="translate(1048.80 1014.20) rotate(-45)" font-size="26.7" font-weight="bold" text-anchor="end" fill="#000" stroke="#000" stroke-width="0.3" stroke-linejoin="round">Western</text>
<text x="0" y="0" transform="translate(1179.70 1014.20) rotate(-45)" font-size="26.7" font-weight="bold" text-anchor="end" fill="#000" stroke="#000" stroke-width="0.3" stroke-linejoin="round">15%Amylose/Soy/FO</text>
<text x="0" y="0" transform="translate(880.60 800.60) rotate(-90) scale(0.97 1)" font-size="29.5" font-weight="bold" text-anchor="middle" fill="#000">β-HB (mM)</text>
<polyline fill="none" stroke="#000" stroke-width="3.3" stroke-linejoin="round" stroke-linecap="butt" points="1039.8,804.4 1039.8,585.6 1170.4,585.6 1170.4,606.2"/>
<text x="1086.03 1106.03" y="577.12" font-size="32.2" font-weight="bold" style="font-family:'DejaVu Sans','Liberation Sans',sans-serif" fill="#000" stroke="#000" stroke-width="1.06" stroke-linejoin="round">**</text>
</g>
</svg>
</body>
</html>
